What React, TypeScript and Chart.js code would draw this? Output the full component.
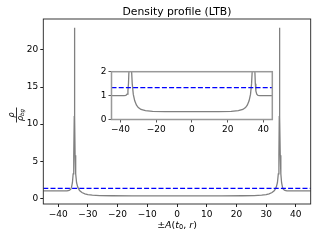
import React, { useEffect, useRef } from "react";
import { Chart, registerables } from "chart.js";

Chart.register(...registerables);

// Half profile: A(t0, r) and density contrast rho / rho_bg (plotted at -A and +A)
const A_HALF = [0, 15, 22, 26, 28.5, 30, 31, 32, 32.8, 33.4, 33.8, 34.1, 34.3, 34.42, 34.5, 34.58, 34.75, 34.95, 35.2, 35.5, 35.8, 36.3, 37, 38, 45];
const RHO_HALF = [0.33, 0.33, 0.34, 0.37, 0.42, 0.5, 0.6, 0.78, 1.05, 1.5, 2.1, 3.3, 5.8, 11, 23.0, 11, 5.8, 3.3, 2.1, 1.5, 1.2, 1.06, 1.01, 1.0, 1.0];
const REF_LEVEL = [1.33];

const X_TICKS = [-40, -30, -20, -10, 0, 10, 20, 30, 40];
const Y_TICKS = [0, 5, 10, 15, 20];
const INSET_X_TICKS = [-40, -20, 0, 20, 40];
const INSET_Y_TICKS = [0, 1, 2];
const X_RANGE = [-45, 45];
const Y_RANGE = [-0.77, 24.17];
const INSET_Y_RANGE = [0, 2];

const TITLE = "Density profile (LTB)";
const FONT = "DejaVu Sans";
const GRAY = "#808080";
const BLUE = "#0000ff";

function profilePoints() {
  const pts: { x: number; y: number }[] = [];
  for (let i = A_HALF.length - 1; i >= 0; i--) pts.push({ x: -A_HALF[i], y: RHO_HALF[i] });
  for (let i = 1; i < A_HALF.length; i++) pts.push({ x: A_HALF[i], y: RHO_HALF[i] });
  return pts;
}

const fmt = (v: number) => (v < 0 ? "\u2212" + Math.abs(v) : String(v));

function datasets(lw: number) {
  return [
    {
      data: [
        { x: X_RANGE[0], y: REF_LEVEL[0] },
        { x: X_RANGE[1], y: REF_LEVEL[0] },
      ],
      borderColor: BLUE,
      borderWidth: 1.3,
      borderDash: [5, 2.2],
      pointRadius: 0,
      order: 1,
    },
    {
      data: profilePoints(),
      borderColor: GRAY,
      borderWidth: lw,
      pointRadius: 0,
      tension: 0,
      order: 2,
    },
  ];
}

function axis(range: number[], ticks: number[], size: number, fitKey: "width" | "height", tickFont: number, color: string) {
  return {
    type: "linear" as const,
    min: range[0],
    max: range[1],
    afterBuildTicks: (s: any) => {
      s.ticks = ticks.map((v) => ({ value: v }));
    },
    afterFit: (s: any) => {
      s[fitKey] = size;
    },
    grid: { drawOnChartArea: false, drawTicks: true, tickLength: 3, color, lineWidth: 1 },
    border: { display: false },
    ticks: {
      color: "#000",
      font: { family: FONT, size: tickFont },
      padding: 2,
      maxRotation: 0,
      autoSkip: false,
      callback: (v: any) => fmt(Number(v)),
    },
  };
}

function framePlugin(color: string, width: number, fill: boolean) {
  return {
    id: "frame",
    beforeDraw(chart: any) {
      if (!fill) return;
      const { left, top, right, bottom } = chart.chartArea;
      const ctx = chart.ctx;
      ctx.save();
      ctx.fillStyle = "#fff";
      ctx.fillRect(left, top, right - left, bottom - top);
      ctx.restore();
    },
    afterDraw(chart: any) {
      const { left, top, right, bottom } = chart.chartArea;
      const ctx = chart.ctx;
      ctx.save();
      ctx.strokeStyle = color;
      ctx.lineWidth = width;
      ctx.strokeRect(left, top, right - left, bottom - top);
      ctx.restore();
    },
  };
}

const textPlugin = {
  id: "texts",
  afterDraw(chart: any) {
    const ctx = chart.ctx;
    const { left, right } = chart.chartArea;
    const cx = (left + right) / 2;
    ctx.save();
    ctx.fillStyle = "#000";
    // title
    ctx.font = `10.8px "${FONT}"`;
    ctx.textAlign = "center";
    ctx.textBaseline = "alphabetic";
    ctx.fillText(TITLE, cx, 14.8);
    // x label: ±A(t0, r)
    const parts: [string, string, number][] = [
      ["\u00b1", `9.5px "${FONT}"`, 0],
      ["A", `italic 9.5px "${FONT}"`, 0],
      ["(", `9.5px "${FONT}"`, 0],
      ["t", `italic 9.5px "${FONT}"`, 0],
      ["0", `6.6px "${FONT}"`, 1.9],
      [", ", `9.5px "${FONT}"`, 0],
      ["r", `italic 9.5px "${FONT}"`, 0],
      [")", `9.5px "${FONT}"`, 0],
    ];
    ctx.textAlign = "left";
    let total = 0;
    for (const [t, f] of parts) {
      ctx.font = f;
      total += ctx.measureText(t).width;
    }
    let x = cx - total / 2;
    for (const [t, f, dy] of parts) {
      ctx.font = f;
      ctx.fillText(t, x, 227.5 + dy);
      x += ctx.measureText(t).width;
    }
    // y label: fraction rho / rho_bg, rotated
    ctx.translate(16.5, 115);
    ctx.rotate(-Math.PI / 2);
    ctx.textAlign = "center";
    ctx.font = `italic 8px "${FONT}"`;
    ctx.fillText("\u03c1", 0, -2.2);
    ctx.fillRect(-7.5, -0.45, 15, 0.8);
    const w1 = ctx.measureText("\u03c1").width;
    ctx.font = `italic 5.6px "${FONT}"`;
    const w2 = ctx.measureText("bg").width;
    const start = -(w1 + w2) / 2;
    ctx.textAlign = "left";
    ctx.font = `italic 8px "${FONT}"`;
    ctx.fillText("\u03c1", start, 6.2);
    ctx.font = `italic 5.6px "${FONT}"`;
    ctx.fillText("bg", start + w1, 7.8);
    ctx.restore();
  },
};

export default function App() {
  const mainRef = useRef<HTMLCanvasElement>(null);
  const insetRef = useRef<HTMLCanvasElement>(null);

  useEffect(() => {
    const main = new Chart(mainRef.current!, {
      type: "line",
      data: { datasets: datasets(1.3) as any },
      options: {
        animation: false,
        responsive: false,
        maintainAspectRatio: false,
        devicePixelRatio: 1,
        parsing: false,
        layout: { padding: { top: 19, right: 9.3, left: 0, bottom: 0 } },
        plugins: { legend: { display: false }, title: { display: false }, tooltip: { enabled: false } },
        scales: {
          x: axis(X_RANGE, X_TICKS, 36, "height", 9, "#222"),
          y: axis(Y_RANGE, Y_TICKS, 43.3, "width", 9, "#222"),
        },
      } as any,
      plugins: [framePlugin("#222", 0.9, false), textPlugin],
    });
    const inset = new Chart(insetRef.current!, {
      type: "line",
      data: { datasets: datasets(1.3) as any },
      options: {
        animation: false,
        responsive: false,
        maintainAspectRatio: false,
        devicePixelRatio: 1,
        parsing: false,
        layout: { padding: { top: 9.7, right: 3.7, left: 0, bottom: 0 } },
        plugins: { legend: { display: false }, title: { display: false }, tooltip: { enabled: false } },
        scales: {
          x: axis(X_RANGE, INSET_X_TICKS, 16.5, "height", 9, "#555"),
          y: axis(INSET_Y_RANGE, INSET_Y_TICKS, 21.5, "width", 9, "#555"),
        },
      } as any,
      plugins: [framePlugin("#999", 1.5, true)],
    });
    return () => {
      main.destroy();
      inset.destroy();
    };
  }, []);

  return (
    <div style={{ position: "fixed", left: 0, top: 0, width: 320, height: 240, background: "#fff" }}>
      <canvas ref={mainRef} width={320} height={240} style={{ position: "absolute", left: 0, top: 0 }} />
      <canvas ref={insetRef} width={186} height={74} style={{ position: "absolute", left: 90, top: 62 }} />
    </div>
  );
}
